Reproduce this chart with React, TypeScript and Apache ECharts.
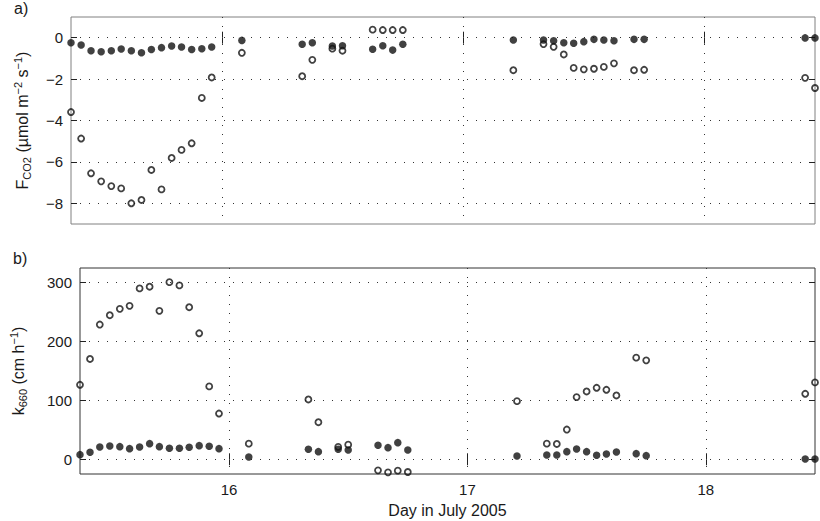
import React, { useEffect, useRef } from "react";
import * as echarts from "echarts";

// Hourly sampling times (decimal day in July 2005)
const days = [
  15.375, 15.417, 15.458, 15.5, 15.542, 15.583, 15.625, 15.667, 15.708, 15.75,
  15.792, 15.833, 15.875, 15.917, 15.958,
  16.083,
  16.333, 16.375,
  16.458, 16.5,
  16.625, 16.667, 16.708, 16.75,
  17.208,
  17.333, 17.375, 17.417, 17.458, 17.5, 17.542, 17.583, 17.625,
  17.708, 17.75,
  18.417, 18.458,
];

// Panel a) F_CO2 (µmol m-2 s-1)
const fluxClosed = [
  -0.24, -0.35, -0.63, -0.68, -0.63, -0.55, -0.63, -0.73, -0.57, -0.48,
  -0.4, -0.45, -0.57, -0.53, -0.45,
  -0.13,
  -0.32, -0.24,
  -0.4, -0.39,
  -0.56, -0.39, -0.6, -0.32,
  -0.11,
  -0.11, -0.15, -0.24, -0.27, -0.19, -0.08, -0.11, -0.15,
  -0.08, -0.08,
  -0.01, -0.01,
];
const fluxOpen = [
  -3.59, -4.87, -6.55, -6.94, -7.17, -7.28, -8.0, -7.84, -6.39, -7.33,
  -5.81, -5.42, -5.1, -2.91, -1.92,
  -0.73,
  -1.86, -1.07,
  -0.53, -0.63,
  0.39, 0.37, 0.37, 0.37,
  -1.57,
  -0.31, -0.44, -0.81, -1.46, -1.53, -1.5, -1.41, -1.24,
  -1.57, -1.55,
  -1.94, -2.43,
];

// Panel b) k660 (cm h-1)
const kClosed = [
  7.9, 11.9, 21, 22.7, 21.5, 18.1, 21, 26.6, 21.5, 18.7,
  18.7, 20.4, 23.2, 22.1, 18.1,
  3.9,
  17, 13,
  17, 15.9,
  23.8, 19.8, 28.3, 15.9,
  5.6,
  7.3, 7.3, 13, 17.6, 13, 6.8, 9, 12.4,
  9.6, 6.2,
  0.5, 0.5,
];
const kOpen = [
  126.6, 170.4, 228.9, 244.8, 255.6, 260.7, 290.3, 293.2, 252.2, 301,
  295.4, 258.4, 214.1, 123.8, 77.7,
  26.6,
  101.6, 63,
  21, 24.9,
  -18.8, -22.2, -19.3, -21.6,
  98.8,
  26.6, 26, 50.5, 105.7, 115.2, 121.5, 118.1, 108.4,
  172.7, 168.1,
  111.3, 130.6,
];

const xTicks = [16, 17, 18];
const fluxTicks = [-8, -6, -4, -2, 0];
const kTicks = [0, 100, 200, 300];

const FONT = "Liberation Sans, Arial, Helvetica, sans-serif";
const TXT = "#1a1a1a";

const fmt = (v: number) => (v < 0 ? "\u2212" + Math.abs(v) : String(v));
const pair = (ys: number[]) => days.map((d, i) => [d, ys[i]]);

const splitStyle = { type: [1, 8], color: "#333", width: 1 };

const richName = {
  i: { fontSize: 16, lineHeight: 20, fontFamily: FONT, color: TXT },
  sub: { fontSize: 11, lineHeight: 11, verticalAlign: "bottom", fontFamily: FONT, color: TXT },
  sup: { fontSize: 11, lineHeight: 11, verticalAlign: "top", fontFamily: FONT, color: TXT },
};

function xAxisDef(gridIndex: number, position: string, withLabels: boolean, extra: any = {}) {
  return {
    type: "value",
    gridIndex,
    position,
    min: 15.375,
    max: 18.458,
    axisLine: { show: false },
    axisTick: { show: true, inside: true, length: 6, customValues: xTicks, lineStyle: { color: "#222" } },
    axisLabel: withLabels
      ? { show: true, customValues: xTicks, fontSize: 15, fontFamily: FONT, color: TXT, margin: 8 }
      : { show: false, customValues: xTicks },
    splitLine: { show: false },
    ...extra,
  };
}

function yAxisDef(gridIndex: number, position: string, min: number, max: number, ticks: number[], withLabels: boolean, extra: any = {}) {
  return {
    type: "value",
    gridIndex,
    position,
    min,
    max,
    axisLine: { show: false },
    axisTick: { show: true, inside: true, length: 6, customValues: ticks, lineStyle: { color: "#222" } },
    axisLabel: withLabels
      ? { show: true, customValues: ticks, fontSize: 15, fontFamily: FONT, color: TXT, margin: 8, formatter: fmt }
      : { show: false, customValues: ticks },
    splitLine: { show: false },
    ...extra,
  };
}

const openStyle = { color: "rgba(0,0,0,0)", borderColor: "#111", borderWidth: 1.8 };
const closedStyle = { color: "#111" };

export default function App() {
  const ref = useRef<HTMLDivElement>(null);
  useEffect(() => {
    document.body.style.margin = "0";
    if (!ref.current) return;
    const chart = echarts.init(ref.current, undefined, { renderer: "svg" });
    chart.setOption({
      animation: false,
      backgroundColor: "#fff",
      textStyle: { fontFamily: FONT },
      grid: [
        { left: 71, top: 17, width: 744, height: 207, show: true, borderColor: "#808080", borderWidth: 1, backgroundColor: "transparent" },
        { left: 71, top: 268, width: 744, height: 206, show: true, borderColor: "#333", borderWidth: 1, backgroundColor: "transparent" },
      ],
      xAxis: [
        xAxisDef(0, "bottom", false, { splitLine: { show: true, lineStyle: splitStyle } }),
        xAxisDef(0, "top", false),
        xAxisDef(1, "bottom", true, {
          splitLine: { show: true, lineStyle: splitStyle },
          name: "Day in July 2005",
          nameLocation: "middle",
          nameGap: 28,
          nameTextStyle: { fontSize: 16, fontFamily: FONT, color: TXT },
        }),
        xAxisDef(1, "top", false),
      ],
      yAxis: [
        yAxisDef(0, "left", -9, 1, fluxTicks, true, {
          splitLine: { show: true, lineStyle: splitStyle },
          name: "{i|F}{sub|CO2}{i| (\u00b5mol m}{sup|\u22122}{i| s}{sup|\u22121}{i|)}",
          nameLocation: "middle",
          nameRotate: 90,
          nameGap: 39,
          nameTextStyle: { fontSize: 16, fontFamily: FONT, color: TXT, rich: richName },
        }),
        yAxisDef(0, "right", -9, 1, fluxTicks, false),
        yAxisDef(1, "left", -25, 325, kTicks, true, {
          splitLine: { show: true, lineStyle: splitStyle },
          name: "{i|k}{sub|660}{i| (cm h}{sup|\u22121}{i|)}",
          nameLocation: "middle",
          nameRotate: 90,
          nameGap: 52,
          nameTextStyle: { fontSize: 16, fontFamily: FONT, color: TXT, rich: richName },
        }),
        yAxisDef(1, "right", -25, 325, kTicks, false),
      ],
      graphic: [
        { type: "text", left: 14, top: 0, style: { text: "a)", fontSize: 16, fontFamily: FONT, fill: TXT } },
        { type: "text", left: 13, top: 250, style: { text: "b)", fontSize: 16, fontFamily: FONT, fill: TXT } },
      ],
      series: [
        { type: "scatter", xAxisIndex: 0, yAxisIndex: 0, data: pair(fluxOpen), symbol: "circle", symbolSize: 6, itemStyle: openStyle, clip: false, z: 3 },
        { type: "scatter", xAxisIndex: 0, yAxisIndex: 0, data: pair(fluxClosed), symbol: "circle", symbolSize: 7.5, itemStyle: closedStyle, clip: false, z: 4 },
        { type: "scatter", xAxisIndex: 2, yAxisIndex: 2, data: pair(kOpen), symbol: "circle", symbolSize: 6, itemStyle: openStyle, clip: false, z: 3 },
        { type: "scatter", xAxisIndex: 2, yAxisIndex: 2, data: pair(kClosed), symbol: "circle", symbolSize: 7.5, itemStyle: closedStyle, clip: false, z: 4 },
      ],
    });
    return () => chart.dispose();
  }, []);
  return <div ref={ref} style={{ width: 820, height: 521 }} />;
}
